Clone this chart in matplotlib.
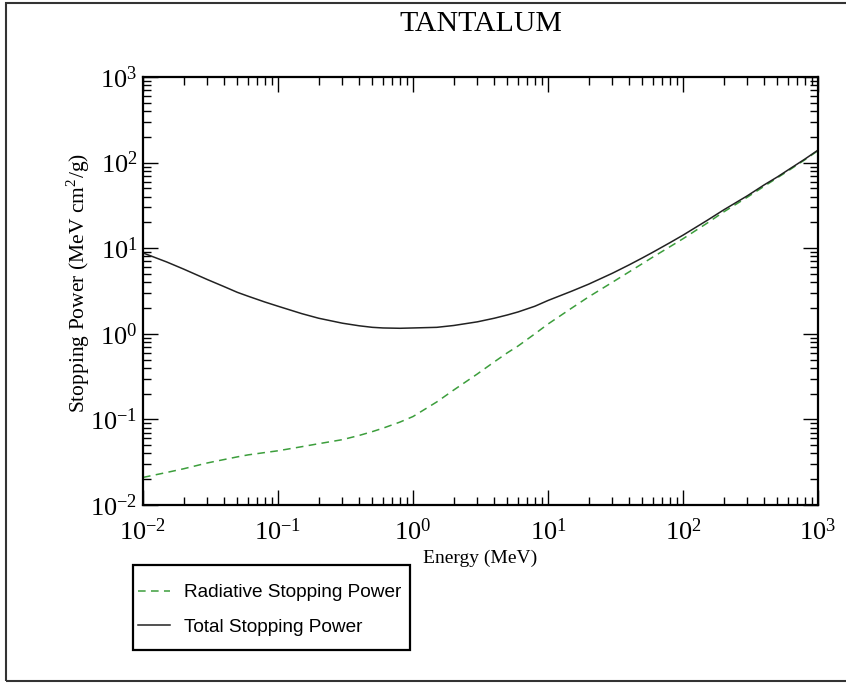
import numpy as np
import matplotlib
matplotlib.use("Agg")
import matplotlib.pyplot as plt
import matplotlib.ticker as ticker
from matplotlib.patches import Rectangle

# energies (MeV) and stopping powers (MeV cm2/g)
energy = [0.01, 0.015, 0.02, 0.03, 0.04, 0.05, 0.06, 0.08, 0.1, 0.15, 0.2, 0.3,
          0.4, 0.5, 0.6, 0.8, 1, 1.5, 2, 3, 4, 5, 6, 8, 10, 15, 20, 30, 40, 50,
          60, 80, 100, 150, 200, 300, 400, 500, 600, 800, 1000]

total_sp = [8.8, 6.9, 5.7, 4.3, 3.55, 3.05, 2.75, 2.35, 2.1, 1.72, 1.52, 1.33,
            1.24, 1.19, 1.17, 1.16, 1.17, 1.19, 1.25, 1.38, 1.52, 1.66, 1.80,
            2.10, 2.45, 3.15, 3.8, 5.1, 6.4, 7.7, 9.0, 11.6, 14.2, 21, 28, 41,
            55, 68, 82, 110, 140]

radiative_sp = [0.021, 0.024, 0.0265, 0.031, 0.034, 0.0365, 0.0385, 0.041,
                0.043, 0.048, 0.052, 0.058, 0.065, 0.072, 0.079, 0.093, 0.108,
                0.16, 0.22, 0.34, 0.47, 0.60, 0.72, 1.0, 1.3, 2.0, 2.7, 4.0,
                5.3, 6.6, 7.9, 10.4, 12.9, 19.5, 26.5, 39.5, 53, 66.5, 80, 108,
                138]

plt.rcParams['font.family'] = ['Liberation Serif', 'DejaVu Serif']
plt.rcParams['mathtext.fontset'] = 'stix'
plt.rcParams['axes.unicode_minus'] = False

W, H = 846, 684
fig = plt.figure(figsize=(W / 100, H / 100), dpi=100)
ax = fig.add_axes([143 / W, 1 - 505 / H, (818 - 143) / W, (505 - 77) / H])

ax.plot(energy, radiative_sp, color='#3c9e3c', lw=1.1, ls=(0, (5, 3.5)),
        label='Radiative Stopping Power')
ax.plot(energy, total_sp, color='#222222', lw=1.1,
        label='Total Stopping Power')

ax.set_xscale('log')
ax.set_yscale('log')
ax.set_xlim(1e-2, 1e3)
ax.set_ylim(1e-2, 1e3)

fmt = ticker.FuncFormatter(lambda v, p: r'$\mathregular{10^{%d}}$' % round(np.log10(v)))
for axis in (ax.xaxis, ax.yaxis):
    axis.set_major_locator(ticker.LogLocator(base=10, numticks=10))
    axis.set_minor_locator(ticker.LogLocator(base=10, subs=np.arange(2, 10), numticks=10))
    axis.set_major_formatter(fmt)
    axis.set_minor_formatter(ticker.NullFormatter())

ax.tick_params(which='both', direction='in', top=True, right=True, width=1.0)
ax.tick_params(which='major', length=11, labelsize=19)
ax.tick_params(which='minor', length=6)
ax.tick_params(axis='x', which='major', pad=10)
ax.tick_params(axis='y', which='major', pad=4)
for s in ax.spines.values():
    s.set_linewidth(1.6)

ax.set_xlabel('Energy (MeV)', fontsize=14, labelpad=3)
ax.set_ylabel(r'Stopping Power (MeV cm$^\mathregular{2}$/g)', fontsize=15.5)
ax.yaxis.set_label_coords(-0.076, 0.52)

fig.text(481 / W, 1 - 24 / H, 'TANTALUM', fontsize=21.5, ha='center', va='center')

leg = fig.legend(loc='upper left', bbox_to_anchor=(138 / W, 1 - 584 / H),
                 bbox_transform=fig.transFigure, borderaxespad=0, borderpad=0,
                 prop={'family': 'Liberation Sans', 'size': 13.7},
                 handlelength=1.7, handletextpad=0.7, labelspacing=0.9,
                 frameon=False)

# legend box and the outer frame round the whole picture
fig.patches.append(Rectangle((133 / W, 1 - 650 / H), (410 - 133) / W, (650 - 565) / H,
                             transform=fig.transFigure, fill=False,
                             edgecolor='black', lw=1.6))
fig.patches.append(Rectangle((6 / W, 3 / H), 1.0, (681 - 3) / H,
                             transform=fig.transFigure, fill=False,
                             edgecolor='#333333', lw=1.5))

fig.savefig('out.png', dpi=100)
